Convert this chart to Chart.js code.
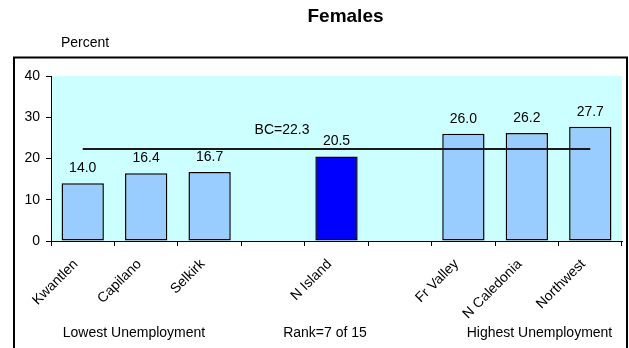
<!DOCTYPE html>
<html>
<head>
<meta charset="utf-8">
<title>Females</title>
<script src="https://cdn.jsdelivr.net/npm/chart.js@4/dist/chart.umd.min.js"></script>
<style>
  html, body { margin: 0; padding: 0; background: #fff; }
  canvas { display: block; }
</style>
</head>
<body>
<canvas id="unempChart" width="629" height="348"></canvas>
<script>
// regions ordered by unemployment rate, blank slots separate the groups
const regions = ["Kwantlen", "Capilano", "Selkirk", "", "N Island", "", "Fr Valley", "N Caledonia", "Northwest"];
const femaleRates = [14.0, 16.4, 16.7, null, 20.5, null, 26.0, 26.2, 27.7];
const bcRate = 22.3;
const yTicks = [0, 10, 20, 30, 40];
const highlightRegion = "N Island";

const FONT = "'Liberation Sans', Arial, sans-serif";

const barColors = regions.map(r => r === highlightRegion ? "#0000FF" : "#99CCFF");
const bcLine = regions.map(() => bcRate);

// cyan plot background plus frame and free text
const decorPlugin = {
  id: "decor",
  beforeDraw(chart) {
    const { ctx, chartArea: a } = chart;
    ctx.save();
    ctx.fillStyle = "#fff";
    ctx.fillRect(0, 0, chart.width, chart.height);
    ctx.fillStyle = "#CCFFFF";
    ctx.fillRect(a.left, a.top, a.right - a.left, a.bottom - a.top);
    ctx.restore();
  },
  afterDraw(chart) {
    const ctx = chart.ctx;
    ctx.save();
    ctx.strokeStyle = "#000";
    ctx.lineWidth = 2;
    ctx.strokeRect(14, 57.5, 613, 400);

    ctx.fillStyle = "#000";
    ctx.textBaseline = "alphabetic";
    ctx.font = "bold 19px " + FONT;
    ctx.textAlign = "center";
    ctx.fillText("Females", 345.5, 22);

    ctx.font = "14px " + FONT;
    ctx.textAlign = "left";
    ctx.fillText("Percent", 61, 47);

    ctx.textAlign = "center";
    ctx.fillText("Lowest Unemployment", 134, 337);
    ctx.fillText("Rank=7 of 15", 325, 337);
    ctx.fillText("Highest Unemployment", 539.5, 337);
    ctx.restore();
  }
};

// value labels over the bars and the provincial average tag
const labelPlugin = {
  id: "valueLabels",
  afterDatasetsDraw(chart) {
    const ctx = chart.ctx;
    const x = chart.scales.x, y = chart.scales.y;
    ctx.save();
    ctx.fillStyle = "#000";
    ctx.font = "14px " + FONT;
    ctx.textAlign = "center";
    ctx.textBaseline = "alphabetic";
    const meta = chart.getDatasetMeta(1);
    meta.data.forEach((bar, i) => {
      const v = femaleRates[i];
      if (v == null) return;
      ctx.fillText(v.toFixed(1), bar.x, bar.y - 11);
    });
    ctx.fillText("BC=" + bcRate.toFixed(1), x.getPixelForValue(3) + 9, y.getPixelForValue(bcRate) - 15);
    ctx.restore();
  }
};

new Chart(document.getElementById("unempChart"), {
  data: {
    labels: regions,
    datasets: [
      {
        type: "line",
        label: "BC",
        data: bcLine,
        borderColor: "#1a1a1a",
        borderWidth: 2,
        pointRadius: 0,
        fill: false,
        order: 0
      },
      {
        type: "bar",
        label: "Females",
        data: femaleRates,
        backgroundColor: barColors,
        borderColor: "#000",
        borderWidth: 1.5,
        borderSkipped: false,
        barPercentage: 0.667,
        categoryPercentage: 1.0,
        order: 1
      }
    ]
  },
  options: {
    responsive: false,
    animation: false,
    layout: { padding: { left: 0, top: 76, right: 7, bottom: 0 } },
    plugins: {
      legend: { display: false },
      title: { display: false },
      tooltip: { enabled: false }
    },
    scales: {
      x: {
        offset: true,
        grid: { offset: true, drawOnChartArea: false, drawTicks: true, tickLength: 5, color: "#000" },
        border: { display: true, color: "#000", width: 1 },
        ticks: {
          color: "#000",
          font: { family: FONT, size: 14 },
          autoSkip: false,
          minRotation: 45,
          maxRotation: 45,
          labelOffset: -7,
          padding: 10
        },
        afterFit(scale) { scale.height = 107; }
      },
      y: {
        min: 0,
        max: 40,
        afterBuildTicks(scale) { scale.ticks = yTicks.map(v => ({ value: v })); },
        grid: { drawOnChartArea: false, drawTicks: true, tickLength: 5, color: "#000" },
        border: { display: true, color: "#000", width: 1 },
        ticks: {
          color: "#000",
          font: { family: FONT, size: 14 },
          padding: 6
        },
        afterFit(scale) { scale.width = 51; }
      }
    }
  },
  plugins: [decorPlugin, labelPlugin]
});
</script>
</body>
</html>
